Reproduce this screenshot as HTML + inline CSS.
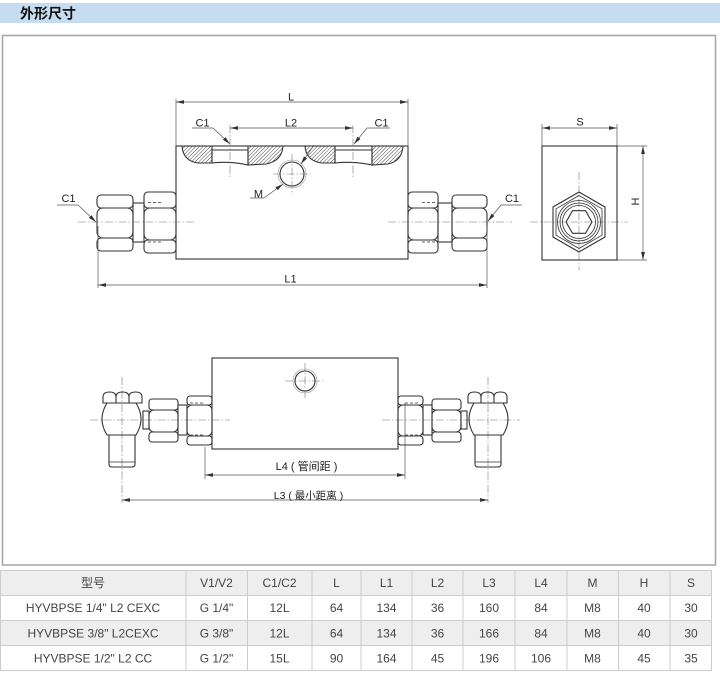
<!DOCTYPE html>
<html><head><meta charset="utf-8"><style>
html,body{margin:0;padding:0;background:#fff;}
svg{display:block;}
</style></head><body>
<svg width="720" height="679" viewBox="0 0 720 679" xmlns="http://www.w3.org/2000/svg" font-family="'Liberation Sans','Noto Sans CJK SC',sans-serif">
<defs>
<pattern id="h" width="2.6" height="2.6" patternUnits="userSpaceOnUse" patternTransform="rotate(45)"><line x1="0" y1="0" x2="0" y2="2.6" stroke="#333" stroke-width="0.9"/></pattern>
<marker id="ar" viewBox="0 0 10 6" refX="10" refY="3" markerWidth="8" markerHeight="4.8" orient="auto-start-reverse" markerUnits="userSpaceOnUse"><path d="M0,0.6 L10,3 L0,5.4 z" fill="#333"/></marker>
</defs>

<!-- header -->
<rect x="0" y="3" width="720" height="20" fill="#c6dcf0"/>
<text x="20" y="18.5" font-size="14" font-weight="bold" fill="#111" font-family="'Liberation Sans','Noto Sans CJK SC',sans-serif">外形尺寸</text>

<!-- frame -->
<rect x="2.5" y="35.5" width="713" height="529.5" fill="none" stroke="#a8a8a8" stroke-width="1.6"/>

<g fill="none" stroke="#333" stroke-width="1.1">
<!-- ===== TOP VIEW ===== -->
<rect x="176" y="146" width="232" height="113"/>
<!-- ports -->
<path d="M182,146 L212,146 L212,163 L198,163 Q183,161 182,146Z" fill="url(#h)"/>
<path d="M212,150 L248,150 L248,165 Q230,161 212,163 Z"/>
<path d="M248,146 L283,146 Q282,161 266,164 L248,165 Z" fill="url(#h)"/>
<path d="M305,146 L335,146 L335,163 L322,163 Q306,161 305,146Z" fill="url(#h)"/>
<path d="M335,150 L372,150 L372,165 Q353,161 335,163 Z"/>
<path d="M372,146 L403,146 Q402,161 388,164 L372,165 Z" fill="url(#h)"/>
<!-- M hole -->
<circle cx="292" cy="174" r="12"/>
<circle cx="292" cy="174" r="14" stroke="#999" stroke-width="0.6"/>

<!-- left fittings -->
<rect x="97" y="195" width="36" height="13" rx="4"/>
<rect x="97" y="208" width="36" height="30" rx="6"/>
<rect x="97" y="238" width="36" height="13" rx="4"/>
<rect x="133" y="203" width="11" height="39"/>
<rect x="144" y="192" width="32" height="16" rx="4"/>
<rect x="144" y="208" width="32" height="32" rx="6"/>
<rect x="144" y="240" width="32" height="13" rx="4"/>
<!-- right fittings -->
<rect x="408" y="192" width="30" height="16" rx="4"/>
<rect x="408" y="208" width="30" height="32" rx="6"/>
<rect x="408" y="240" width="30" height="13" rx="4"/>
<rect x="438" y="203" width="14" height="39"/>
<rect x="452" y="195" width="35" height="13" rx="4"/>
<rect x="452" y="208" width="35" height="30" rx="6"/>
<rect x="452" y="238" width="35" height="13" rx="4"/>
</g>
<g stroke="#333" stroke-width="0.8" stroke-dasharray="3,2" fill="none">
<line x1="148" y1="202.5" x2="163" y2="202.5"/><line x1="148" y1="242" x2="163" y2="242"/>
<line x1="422" y1="202.5" x2="437" y2="202.5"/><line x1="422" y1="242" x2="437" y2="242"/>
</g>

<!-- centerlines -->
<g stroke="#777" stroke-width="0.6" stroke-dasharray="8,2,1.5,2" fill="none">
<line x1="230" y1="125" x2="230" y2="178"/>
<line x1="353" y1="125" x2="353" y2="178"/>
<line x1="273" y1="174" x2="311" y2="174"/>
<line x1="292" y1="154" x2="292" y2="195"/>
<line x1="78" y1="222" x2="194" y2="222"/>
<line x1="388" y1="222" x2="512" y2="222"/>
<!-- side -->
<line x1="530" y1="222" x2="628" y2="222"/>
<line x1="579" y1="172" x2="579" y2="270"/>
<!-- bottom -->
<line x1="90" y1="420" x2="230" y2="420"/>
<line x1="382" y1="420" x2="520" y2="420"/>
<line x1="285" y1="381" x2="325" y2="381"/>
<line x1="305" y1="363" x2="305" y2="399"/>
<line x1="122" y1="377" x2="122" y2="503"/>
<line x1="488" y1="377" x2="488" y2="503"/>
</g>

<!-- dimension lines -->
<g stroke="#555" stroke-width="0.7" fill="none">
<line x1="176" y1="99" x2="176" y2="146"/>
<line x1="408" y1="99" x2="408" y2="146"/>
<line x1="176" y1="102" x2="408" y2="102" marker-start="url(#ar)" marker-end="url(#ar)"/>
<line x1="230" y1="128" x2="353" y2="128" marker-start="url(#ar)" marker-end="url(#ar)"/>
<line x1="98" y1="226" x2="98" y2="288"/>
<line x1="487" y1="226" x2="487" y2="288"/>
<line x1="98" y1="285" x2="487" y2="285" marker-start="url(#ar)" marker-end="url(#ar)"/>
<polyline points="192,128 213,128 230,144" marker-end="url(#ar)"/>
<polyline points="390,128 367,128 354,144" marker-end="url(#ar)"/>
<polyline points="57,205 78,205 96,222" marker-end="url(#ar)"/>
<polyline points="522,205 501,205 488,221" marker-end="url(#ar)"/>
<polyline points="250,198 264,198 283,184" marker-end="url(#ar)"/>
<line x1="314" y1="145" x2="301" y2="164" marker-end="url(#ar)"/>
<line x1="542" y1="124" x2="542" y2="146"/>
<line x1="617" y1="124" x2="617" y2="146"/>
<line x1="542" y1="128" x2="617" y2="128" marker-start="url(#ar)" marker-end="url(#ar)"/>
<line x1="617" y1="146" x2="647" y2="146"/>
<line x1="617" y1="260" x2="647" y2="260"/>
<line x1="643" y1="146" x2="643" y2="260" marker-start="url(#ar)" marker-end="url(#ar)"/>
<line x1="205" y1="447" x2="205" y2="479"/>
<line x1="405" y1="403" x2="405" y2="479"/>
<line x1="205" y1="475" x2="405" y2="475" marker-start="url(#ar)" marker-end="url(#ar)"/>
<line x1="122" y1="500" x2="488" y2="500" marker-start="url(#ar)" marker-end="url(#ar)"/>
</g>

<!-- side view -->
<g fill="none" stroke="#333" stroke-width="1.1">
<rect x="542" y="146" width="75" height="114"/>
<polygon points="579,192 605,207 605,237 579,252 553,237 553,207"/>
<polygon points="579,195.5 602,208.8 602,235.2 579,248.5 556,235.2 556,208.8" stroke-width="0.8"/>
<circle cx="579" cy="222" r="21.5" stroke-width="0.8"/>
<circle cx="579" cy="222" r="19" stroke-width="0.8"/>
<circle cx="579" cy="222" r="16.5" stroke-width="0.8"/>
<polygon points="592,222 585.5,210.7 572.5,210.7 566,222 572.5,233.3 585.5,233.3"/>
</g>

<!-- bottom view -->
<g fill="none" stroke="#333" stroke-width="1.1">
<rect x="212" y="358" width="186" height="91"/>
<circle cx="305" cy="381" r="10"/>
<circle cx="305" cy="381" r="12" stroke="#999" stroke-width="0.6"/>
<rect x="187" y="396" width="25" height="9" rx="3"/>
<rect x="187" y="405" width="25" height="31" rx="5"/>
<rect x="187" y="436" width="25" height="9" rx="3"/>
<rect x="149" y="399" width="29" height="11" rx="3"/>
<rect x="149" y="410" width="29" height="22" rx="5"/>
<rect x="149" y="432" width="29" height="10" rx="3"/>
<rect x="178" y="405" width="9" height="30"/>
<rect x="143" y="411" width="6" height="18"/>
<path d="M107,403 H136 Q146,419 136,435 H107 Q97,419 107,403 Z"/>
<path d="M103,403 V397 Q103,392 109.5,392 Q116,392 116,397 Q116,392 122.5,392 Q129,392 129,397 Q129,392 135.5,392 Q142,392 142,397 V403 Z"/>
<line x1="116" y1="397" x2="116" y2="403"/><line x1="129" y1="397" x2="129" y2="403"/>
<path d="M109,435 V464 Q109,467 112,467 H132 Q135,467 135,464 V435"/>
<line x1="109" y1="462" x2="135" y2="462" stroke-width="0.7"/>
<rect x="398" y="396" width="25" height="9" rx="3"/>
<rect x="398" y="405" width="25" height="31" rx="5"/>
<rect x="398" y="436" width="25" height="9" rx="3"/>
<rect x="432" y="399" width="29" height="11" rx="3"/>
<rect x="432" y="410" width="29" height="22" rx="5"/>
<rect x="432" y="432" width="29" height="10" rx="3"/>
<rect x="423" y="405" width="9" height="30"/>
<rect x="461" y="411" width="6" height="18"/>
<path d="M474,403 H503 Q513,419 503,435 H474 Q464,419 474,403 Z"/>
<path d="M468,403 V397 Q468,392 474.5,392 Q481,392 481,397 Q481,392 487.5,392 Q494,392 494,397 Q494,392 500.5,392 Q507,392 507,397 V403 Z"/>
<line x1="481" y1="397" x2="481" y2="403"/><line x1="494" y1="397" x2="494" y2="403"/>
<path d="M475,435 V464 Q475,467 478,467 H498 Q501,467 501,464 V435"/>
<line x1="475" y1="462" x2="501" y2="462" stroke-width="0.7"/>
</g>
<g stroke="#333" stroke-width="0.8" stroke-dasharray="3,2" fill="none">
<line x1="190" y1="403" x2="205" y2="403"/><line x1="190" y1="435" x2="205" y2="435"/>
<line x1="405" y1="403" x2="420" y2="403"/><line x1="405" y1="435" x2="420" y2="435"/>
</g>

<!-- drawing labels -->
<g font-size="11" fill="#222">
<text x="291" y="100.5" text-anchor="middle">L</text>
<text x="291" y="126.5" text-anchor="middle">L2</text>
<text x="202.5" y="126.5" text-anchor="middle">C1</text>
<text x="381.5" y="126.5" text-anchor="middle">C1</text>
<text x="68.5" y="202" text-anchor="middle">C1</text>
<text x="512" y="202" text-anchor="middle">C1</text>
<text x="258.5" y="197.5" text-anchor="middle">M</text>
<text x="290.5" y="282.5" text-anchor="middle">L1</text>
<text x="580" y="125.5" text-anchor="middle">S</text>
<text x="0" y="0" text-anchor="middle" transform="translate(639,201.5) rotate(-90)">H</text>
<text x="306.5" y="470" text-anchor="middle">L4 ( 管间距 )</text>
<text x="308.5" y="499" text-anchor="middle" font-size="10.5">L3 ( 最小距离 )</text>
</g>

<!-- table -->
<rect x="0" y="570" width="712" height="25" fill="#eeeeee"/>
<rect x="0" y="620" width="712" height="26" fill="#eeeeee"/>
<g stroke="#cccccc" stroke-width="1" fill="none">
<line x1="0" y1="570.5" x2="712" y2="570.5"/>
<line x1="0" y1="595.5" x2="712" y2="595.5"/>
<line x1="0" y1="620.5" x2="712" y2="620.5"/>
<line x1="0" y1="645.5" x2="712" y2="645.5"/>
<line x1="0" y1="670.5" x2="712" y2="670.5"/>
<line x1="0.5" y1="570" x2="0.5" y2="671"/>
<line x1="186" y1="570" x2="186" y2="671"/>
<line x1="247.5" y1="570" x2="247.5" y2="671"/>
<line x1="312" y1="570" x2="312" y2="671"/>
<line x1="361" y1="570" x2="361" y2="671"/>
<line x1="412" y1="570" x2="412" y2="671"/>
<line x1="463" y1="570" x2="463" y2="671"/>
<line x1="515" y1="570" x2="515" y2="671"/>
<line x1="567" y1="570" x2="567" y2="671"/>
<line x1="618.5" y1="570" x2="618.5" y2="671"/>
<line x1="670" y1="570" x2="670" y2="671"/>
<line x1="711.5" y1="570" x2="711.5" y2="671"/>
</g>
<g font-size="12" fill="#444" text-anchor="middle">
<text x="93" y="587">型号</text><text x="216.5" y="587">V1/V2</text><text x="279.5" y="587">C1/C2</text><text x="336.5" y="587">L</text><text x="386.5" y="587">L1</text><text x="437.5" y="587">L2</text><text x="489" y="587">L3</text><text x="541" y="587">L4</text><text x="592.5" y="587">M</text><text x="644" y="587">H</text><text x="691" y="587">S</text>
<text x="93" y="612">HYVBPSE 1/4" L2 CEXC</text><text x="216.5" y="612">G 1/4"</text><text x="279.5" y="612">12L</text><text x="336.5" y="612">64</text><text x="386.5" y="612">134</text><text x="437.5" y="612">36</text><text x="489" y="612">160</text><text x="541" y="612">84</text><text x="592.5" y="612">M8</text><text x="644" y="612">40</text><text x="691" y="612">30</text>
<text x="93" y="637.5">HYVBPSE 3/8" L2CEXC</text><text x="216.5" y="637.5">G 3/8"</text><text x="279.5" y="637.5">12L</text><text x="336.5" y="637.5">64</text><text x="386.5" y="637.5">134</text><text x="437.5" y="637.5">36</text><text x="489" y="637.5">166</text><text x="541" y="637.5">84</text><text x="592.5" y="637.5">M8</text><text x="644" y="637.5">40</text><text x="691" y="637.5">30</text>
<text x="93" y="662.5">HYVBPSE 1/2" L2 CC</text><text x="216.5" y="662.5">G 1/2"</text><text x="279.5" y="662.5">15L</text><text x="336.5" y="662.5">90</text><text x="386.5" y="662.5">164</text><text x="437.5" y="662.5">45</text><text x="489" y="662.5">196</text><text x="541" y="662.5">106</text><text x="592.5" y="662.5">M8</text><text x="644" y="662.5">45</text><text x="691" y="662.5">35</text>
</g>
</svg>
</body></html>
